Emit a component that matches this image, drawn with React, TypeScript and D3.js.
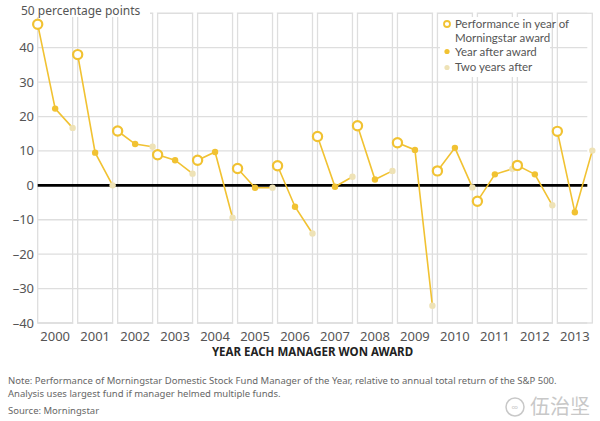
import * as d3 from 'd3'

const years = [2000, 2001, 2002, 2003, 2004, 2005, 2006, 2007, 2008, 2009, 2010, 2011, 2012, 2013]
const awardYear = [46.8, 38.0, 15.8, 8.9, 7.3, 4.9, 5.7, 14.2, 17.3, 12.4, 4.2, -4.6, 5.8, 15.7]
const yearAfter = [22.3, 9.5, 12.0, 7.3, 9.7, -0.7, -6.2, -0.4, 1.7, 10.3, 10.9, 3.2, 3.2, -7.8]
const twoYearsAfter = [16.7, 0.0, 11.2, 3.4, -9.4, -0.7, -14.0, 2.5, 4.2, -35.0, -0.6, 4.8, -5.8, 10.1]
const yTicks = [-40, -30, -20, -10, 0, 10, 20, 30, 40]
const legendLabels = [
  ['Performance in year of', 'Morningstar award'],
  ['Year after award'],
  ['Two years after'],
]
const notes = [
  'Note: Performance of Morningstar Domestic Stock Fund Manager of the Year, relative to annual total return of the S&P 500.',
  'Analysis uses largest fund if manager helmed multiple funds.',
]

const W = 600
const H = 421
const LEFT = 37.7
const RIGHT = 587.3
const TOP = 13.3
const BOTTOM = 323

const GOLD = '#f1c232'
const PALE = '#eee2b6'
const GRID = '#dedede'
const TEXT = '#555'
const SANS = "'Noto Sans', 'Open Sans', sans-serif"

export default function App() {
  const x = d3
    .scaleBand<number>()
    .domain(years)
    .range([LEFT, RIGHT + 5])
    .paddingInner(0.126)
    .paddingOuter(0)
  const bw = x.bandwidth()
  const inner = d3.scalePoint<string>().domain(['award', 'after', 'two']).range([0, bw])
  const y = d3.scaleLinear().domain([-40, 50]).range([BOTTOM, TOP])

  const line = d3
    .line<[number, number]>()
    .x((d) => d[0])
    .y((d) => d[1])

  return (
    <svg
      width={W}
      height={H}
      viewBox={`0 0 ${W} ${H}`}
      style={{ position: 'absolute', left: 0, top: 0, background: '#fff' }}
      fontFamily={SANS}
    >
      {/* horizontal grid */}
      {yTicks.concat([50]).map((t) => (
        <line key={t} x1={LEFT} x2={RIGHT} y1={y(t)} y2={y(t)} stroke={GRID} strokeWidth={1.3} />
      ))}
      {/* panels */}
      {years.map((yr) => (
        <rect
          key={yr}
          x={x(yr)}
          y={y(50)}
          width={bw}
          height={y(-40) - y(50)}
          fill="none"
          stroke={GRID}
          strokeWidth={1.3}
        />
      ))}
      {/* white gaps at top and bottom edges */}
      {years.slice(1).map((yr) => (
        <g key={yr}>
          <rect x={(x(yr) as number) - 4.3} y={y(50) - 1} width={3.6} height={2} fill="#fff" />
          <rect x={(x(yr) as number) - 4.3} y={y(-40) - 1} width={3.6} height={2} fill="#fff" />
        </g>
      ))}

      {/* title and legend backgrounds */}
      <rect x={18} y={0} width={132} height={17} fill="#fff" />
      <rect x={440} y={17} width={110} height={60} fill="#fff" />

      <text x={21} y={14.5} fontSize={12} fill={TEXT}>
        50 percentage points
      </text>

      {/* y tick labels */}
      {yTicks.map((t) => (
        <text key={t} x={34} y={y(t)} dy="0.35em" fontSize={13} fill={TEXT} textAnchor="end">
          {t < 0 ? `–${-t}` : t}
        </text>
      ))}

      {/* zero line */}
      <line x1={LEFT} x2={RIGHT} y1={y(0)} y2={y(0)} stroke="#000" strokeWidth={2.6} />

      {/* series */}
      {years.map((yr, i) => {
        const x0 = x(yr) as number
        const pts: [number, number][] = [
          [x0 + (inner('award') as number), y(awardYear[i])],
          [x0 + (inner('after') as number), y(yearAfter[i])],
          [x0 + (inner('two') as number), y(twoYearsAfter[i])],
        ]
        return (
          <g key={yr}>
            <path d={line(pts) ?? ''} fill="none" stroke={GOLD} strokeWidth={1.6} />
            <circle cx={pts[2][0]} cy={pts[2][1]} r={3.2} fill={PALE} />
            <circle cx={pts[1][0]} cy={pts[1][1]} r={3.2} fill={GOLD} />
            <circle cx={pts[0][0]} cy={pts[0][1]} r={4.6} fill="#fff" stroke={GOLD} strokeWidth={2.2} />
          </g>
        )
      })}

      {/* legend */}
      <circle cx={447} cy={24} r={3} fill="#fff" stroke={GOLD} strokeWidth={1.8} />
      <circle cx={447} cy={51.5} r={2.6} fill={GOLD} />
      <circle cx={447} cy={67.5} r={2.6} fill={PALE} />
      <g fontFamily="Lato, 'Noto Sans', sans-serif" fontSize={11.5} fill={TEXT}>
        <text x={455} y={27.8}>{legendLabels[0][0]}</text>
        <text x={455} y={41.8}>{legendLabels[0][1]}</text>
        <text x={455} y={55.6}>{legendLabels[1][0]}</text>
        <text x={455} y={71.4}>{legendLabels[2][0]}</text>
      </g>

      {/* year labels */}
      {years.map((yr) => (
        <text
          key={yr}
          x={(x(yr) as number) + bw / 2}
          y={340.5}
          fontSize={13}
          fill={TEXT}
          textAnchor="middle"
        >
          {yr}
        </text>
      ))}
      <text
        x={(LEFT + RIGHT) / 2}
        y={355.5}
        fontSize={11.5}
        fontWeight={700}
        fill="#222"
        textAnchor="middle"
      >
        YEAR EACH MANAGER WON AWARD
      </text>

      {/* notes */}
      <text x={8} y={384} fontSize={9.5} fill="#666">{notes[0]}</text>
      <text x={8} y={397} fontSize={9.5} fill="#666">{notes[1]}</text>
      <text x={8} y={414} fontSize={9.5} fill="#666">Source: Morningstar</text>

      {/* watermark */}
      <circle cx={515} cy={407} r={9} fill="none" stroke="#c8c8c8" strokeWidth={1.5} />
      <text x={515} y={411} fontSize={10} fill="#c8c8c8" textAnchor="middle">
        ∞
      </text>
      <text x={530} y={414} fontSize={20} fill="#c8c8c8" fontFamily="'Noto Sans CJK SC', sans-serif">
        伍治坚
      </text>
    </svg>
  )
}
